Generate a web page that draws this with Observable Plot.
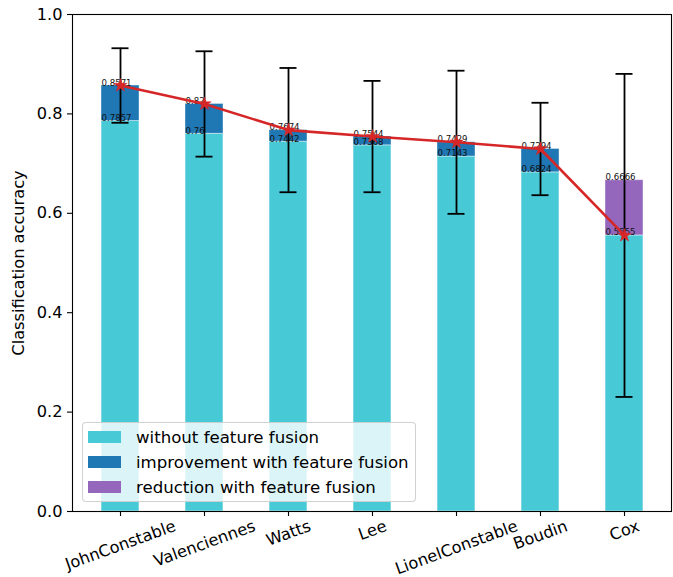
<!DOCTYPE html>
<html>
<head>
<meta charset="utf-8">
<script src="https://cdn.jsdelivr.net/npm/d3@7"></script>
<script src="https://cdn.jsdelivr.net/npm/@observablehq/plot@0.6"></script>
<style>
  html, body { margin: 0; padding: 0; background: white; }
  #wrap { position: relative; width: 673px; height: 577px; font-family: "DejaVu Sans", sans-serif; }
  #legend {
    position: absolute; left: 82px; top: 422px; width: 332px; height: 78px;
    background: rgba(255,255,255,0.8); border: 1px solid rgba(204,204,204,0.9);
    border-radius: 4px; box-sizing: content-box;
  }
  .row { position: absolute; left: 5px; height: 20px; display: flex; align-items: center; }
  .sw { width: 33px; height: 12px; margin-right: 15px; }
  .lt { font-size: 16.6px; color: #000; white-space: nowrap; }
</style>
</head>
<body>
<div id="wrap"></div>
<script>
const names = ["JohnConstable", "Valenciennes", "Watts", "Lee", "LionelConstable", "Boudin", "Cox"];
const withoutFusion = [0.7857, 0.76, 0.7442, 0.7368, 0.7143, 0.6824, 0.6666];
const withFusion = [0.8571, 0.82, 0.7674, 0.7544, 0.7429, 0.7294, 0.5555];
const errFusion = [0.075, 0.106, 0.125, 0.112, 0.144, 0.093, 0.325];
const yTicks = [0, 0.2, 0.4, 0.6, 0.8, 1.0];
const legendLabels = ["without feature fusion", "improvement with feature fusion", "reduction with feature fusion"];

const cyan = "#47c9d6", blue = "#1f77b4", purple = "#9467bd", red = "#d62728";

const rows = names.map((n, i) => ({
  name: n, wo: withoutFusion[i], wf: withFusion[i], err: errFusion[i],
  lo: Math.min(withoutFusion[i], withFusion[i]), hi: Math.max(withoutFusion[i], withFusion[i]),
  up: withFusion[i] >= withoutFusion[i]
}));

const W = 673, H = 577, mL = 72, mR = 2, mT = 14, mB = 66;
const pInner = 0.55, pOuter = 0.3225;
const step = (W - mL - mR) / (names.length - pInner + 2 * pOuter);
const bw = step * (1 - pInner);

// x tick labels rotated 20deg, centered like matplotlib
const tickFont = 16.2;
const ctx = document.createElement("canvas").getContext("2d");
ctx.font = `${tickFont}px "DejaVu Sans"`;
const rad = 20 * Math.PI / 180;
const tickLabelMarks = names.map(n => {
  const w = ctx.measureText(n).width;
  const h = tickFont * 1.05;
  const bh = w * Math.sin(rad) + h * Math.cos(rad);
  return Plot.text([n], {
    x: d => d, frameAnchor: "bottom", dy: 6 + bh / 2, rotate: -20,
    textAnchor: "middle", lineAnchor: "middle", fontSize: tickFont, fill: "black"
  });
});

const labelData = rows.flatMap(r => [{name: r.name, v: r.wo}, {name: r.name, v: r.wf}]);

const chart = Plot.plot({
  width: W, height: H,
  marginLeft: mL, marginRight: mR, marginTop: mT, marginBottom: mB,
  style: {fontFamily: "DejaVu Sans, sans-serif", background: "white", color: "black", overflow: "visible"},
  x: {domain: names, padding: pInner, paddingOuter: pOuter, align: 0.5, axis: null},
  y: {domain: [0, 1], axis: null},
  marks: [
    Plot.barY(rows, {x: "name", y1: 0, y2: "lo", fill: cyan, stroke: "white", strokeOpacity: 0.55, strokeWidth: 1}),
    Plot.barY(rows.filter(r => r.up), {x: "name", y1: "lo", y2: "hi", fill: blue, stroke: "white", strokeOpacity: 0.4, strokeWidth: 1}),
    Plot.barY(rows.filter(r => !r.up), {x: "name", y1: "lo", y2: "hi", fill: purple, stroke: "white", strokeOpacity: 0.4, strokeWidth: 1}),
    Plot.text(labelData, {x: "name", y: "v", text: d => String(d.v), dx: -bw / 2, textAnchor: "start", lineAnchor: "bottom", fontSize: 8.6, fill: "#111"}),
    Plot.ruleX(rows, {x: "name", y1: d => d.wf - d.err, y2: d => d.wf + d.err, stroke: "black", strokeWidth: 1.8}),
    Plot.tickY(rows, {x: "name", y: d => d.wf - d.err, stroke: "black", strokeWidth: 1.8, inset: (bw - 17) / 2}),
    Plot.tickY(rows, {x: "name", y: d => d.wf + d.err, stroke: "black", strokeWidth: 1.8, inset: (bw - 17) / 2}),
    Plot.line(rows, {x: "name", y: "wf", stroke: red, strokeWidth: 2.6}),
    Plot.dot(rows, {x: "name", y: "wf", symbol: "star", r: 4.2, fill: red, stroke: red, strokeWidth: 0.5}),
    Plot.axisY({ticks: yTicks, tickFormat: d3.format(".1f"), tickSize: 5, tickPadding: 5, fontSize: tickFont, label: null, strokeWidth: 1.1}),
    Plot.axisX({tickSize: 5, tickFormat: () => "", label: null, strokeWidth: 1.1}),
    ...tickLabelMarks,
    Plot.text(["Classification accuracy"], {frameAnchor: "left", dx: -54, rotate: -90, textAnchor: "middle", lineAnchor: "middle", fontSize: 16.2, fill: "black"}),
    Plot.frame({stroke: "black", strokeWidth: 1.1})
  ]
});

const wrap = document.getElementById("wrap");
wrap.appendChild(chart);

const legend = document.createElement("div");
legend.id = "legend";
const colors = [cyan, blue, purple];
legendLabels.forEach((t, i) => {
  const row = document.createElement("div");
  row.className = "row";
  row.style.top = (4 + i * 25) + "px";
  row.innerHTML = `<div class="sw" style="background:${colors[i]}"></div><div class="lt">${t}</div>`;
  legend.appendChild(row);
});
wrap.appendChild(legend);
</script>
</body>
</html>
